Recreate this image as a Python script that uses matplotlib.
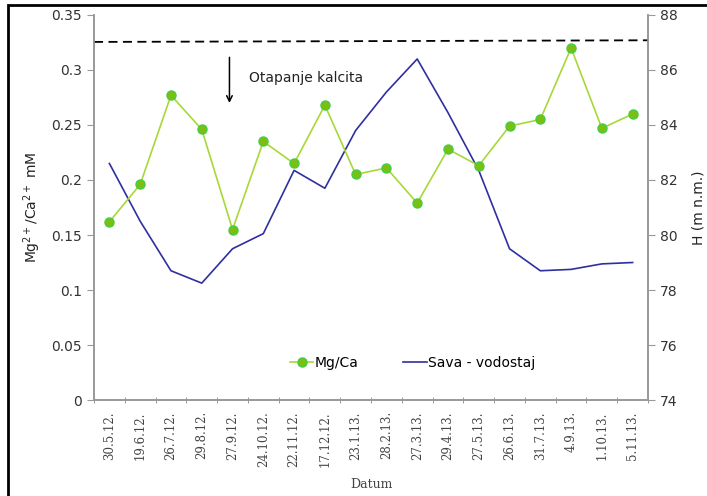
import matplotlib
matplotlib.use("Agg")
import matplotlib.pyplot as plt
from matplotlib.patches import Rectangle
import numpy as np

dates = ["30.5.12.", "19.6.12.", "26.7.12.", "29.8.12.", "27.9.12.", "24.10.12.",
         "22.11.12.", "17.12.12.", "23.1.13.", "28.2.13.", "27.3.13.", "29.4.13.",
         "27.5.13.", "26.6.13.", "31.7.13.", "4.9.13.", "1.10.13.", "5.11.13."]
mg_ca = [0.162, 0.196, 0.277, 0.246, 0.155, 0.235, 0.215, 0.268, 0.205, 0.211,
         0.179, 0.228, 0.213, 0.249, 0.255, 0.320, 0.247, 0.260]
sava = [82.6, 80.5, 78.7, 78.25, 79.5, 80.05, 82.35, 81.7, 83.8, 85.2,
        86.4, 84.45, 82.35, 79.5, 78.7, 78.75, 78.95, 79.0]
calcite_limit = [0.3255, 0.327]

fig = plt.figure(figsize=(7.07, 4.96), dpi=100)
ax = fig.add_axes([0.133, 0.1935, 0.7836, 0.7763])
ax2 = ax.twinx()

x = np.arange(len(dates))
ax.set_xlim(-0.5, len(dates) - 0.5)

l2, = ax2.plot(x, sava, color="#2f2f9f", lw=1.2, label="Sava - vodostaj")
l1, = ax.plot(x, mg_ca, color="#a8d838", lw=1.2, marker="o", markersize=6.5,
              markerfacecolor="#7cbf10", markeredgecolor="#44cc44", markeredgewidth=1,
              label="Mg/Ca")
ax.set_zorder(ax2.get_zorder() + 1)
ax.patch.set_visible(False)

ax.plot([-0.5, len(dates) - 0.5], calcite_limit, color="black", lw=1.3, ls=(0, (5, 3)))

ax.set_ylim(0, 0.35)
ax.set_yticks(np.arange(0, 0.351, 0.05))
ax.set_yticklabels(["0", "0.05", "0.1", "0.15", "0.2", "0.25", "0.3", "0.35"])
ax2.set_ylim(74, 88)
ax2.set_yticks(np.arange(74, 88.1, 2))

ax.set_xticks(x)
ax.set_xticklabels(dates, rotation=90, fontsize=8.5, family="DejaVu Serif", color="#444444")
ax.set_xticks(np.arange(-0.5, len(dates), 1), minor=True)
ax.tick_params(axis="x", which="major", length=0, pad=8)
ax.tick_params(axis="x", which="minor", length=4, direction="inout", color="#888888")

for a in (ax, ax2):
    for s in a.spines.values():
        s.set_color("#999999")
        s.set_linewidth(1.2)
    a.spines["top"].set_visible(False)
ax.tick_params(axis="y", labelsize=10, colors="#999999", labelcolor="#333333", length=5)
ax2.tick_params(axis="y", labelsize=10, colors="#999999", labelcolor="#333333", length=5)

ax.set_ylabel("Mg$^{2+}$/Ca$^{2+}$ mM", fontsize=10, color="#222222", labelpad=6)
ax2.set_ylabel("H (m n.m.)", fontsize=10, color="#222222", labelpad=10)
ax.set_xlabel("Datum", fontsize=9, family="DejaVu Serif", color="#444444", labelpad=8)

ax.annotate("", xy=(3.9, 0.2675), xytext=(3.9, 0.314),
            arrowprops=dict(arrowstyle="->", color="black", lw=1.1))
ax.text(4.55, 0.293, "Otapanje kalcita", fontsize=10, color="#222222", va="center")

ax.legend(handles=[l1, l2], loc="lower center", bbox_to_anchor=(0.575, 0.045), ncol=2,
          frameon=False, fontsize=10, handlelength=1.7, columnspacing=3.2, handletextpad=0.1)

fig.patches.append(Rectangle((8 / 707, -0.01), 1.0, 1 - 5 / 496 + 0.01,
                             transform=fig.transFigure, fill=False, lw=2,
                             edgecolor="black"))

fig.savefig("out.png", dpi=100)
